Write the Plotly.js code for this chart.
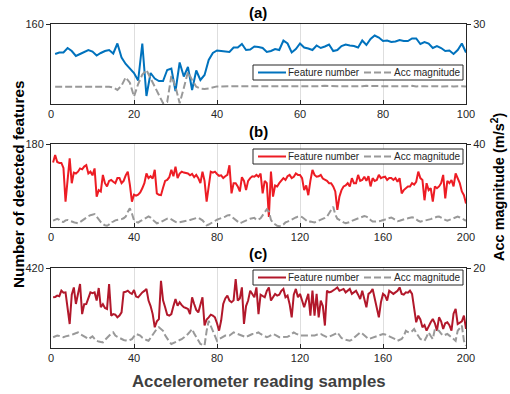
<!DOCTYPE html>
<html>
<head>
<meta charset="utf-8">
<script src="https://cdn.plot.ly/plotly-3.0.1.min.js"></script>
<style>html,body{margin:0;padding:0;background:#fff;}#chart{width:510px;height:394px;}</style>
</head>
<body>
<div id="chart"></div>
<script>
// ---- Data ----
const featureA = [100,103,103,112,106,96,100,104,108,105, 97,102,106,108,101,121,93,80,72,62,
  47,121,16,62,51,46,46,68,71,26, 83,55,74,28,67,48,58,88,102,107,
  106,105,104,113,113,120,108,109,115,114, 112,104,106,110,108,127,121,103,110,121,
  113,111,108,117,112,115,119,106,108,116, 119,117,116,113,127,118,130,137,133,126,
  127,124,125,128,126,126,131,131,120,124, 121,112,116,112,106,107,100,108,121,103];
const accA = [6.5,6.5,6.4,6.5,6.5,6.4,6.5,6.5,6.4,6.5, 6.5,6.5,6.4,6.5,6.2,5.3,6.9,10.0,8.0,2.8,
  7.5,11.0,12.7,9.6,6.0,3.4,0.3,0.8,10.5,6.5, 0.3,6.0,12.0,9.0,6.5,5.8,5.6,5.8,6.2,6.6,
  6.6,6.7,6.6,6.7,6.7,6.6,6.7,6.7,6.6,6.7, 6.7,6.6,6.7,6.7,6.6,6.7,6.7,6.6,6.7,6.7,
  6.6,6.7,6.7,6.6,6.7,6.8,6.7,6.6,6.7,6.7, 6.6,6.7,6.7,6.6,6.7,6.8,6.7,6.6,6.7,6.7,
  6.6,6.7,6.7,6.6,6.7,6.7,6.8,6.6,6.7,6.7, 6.6,6.7,6.7,6.6,6.7,6.7,6.6,6.7,6.7,6.6];

const featureB = [140,156,141,139,139,128,55,110,149,95, 118,116,120,127,125,131,134,116,120,112,
  127,66,80,77,113,95,88,100,102,98, 95,106,106,95,100,112,120,92,55,70,
  68,70,75,84,95,116,106,110,105,124, 73,70,69,85,100,102,108,124,110,131,
  106,116,120,118,117,116,112,115,108,113, 106,95,120,100,55,90,120,118,120,115,
  111,112,106,110,113,134,73,95,95,88, 77,108,100,80,100,106,110,109,113,109,
  116,73,100,95,22,120,66,90,88,95, 100,106,102,110,113,106,109,116,113,113,
  106,80,90,69,100,124,113,109,110,113, 105,102,100,95,95,88,77,37,66,80,
  88,90,95,88,106,95,95,113,100,102, 109,100,110,88,106,100,102,113,106,108,
  109,102,106,106,102,106,98,106,73,80, 84,88,88,95,92,98,120,106,102,58,
  95,80,84,55,88,84,88,95,113,62, 100,95,102,88,116,106,95,77,69,51];
const accB = [3.1,3.5,3.9,3.4,2.6,2.4,3.2,3.4,2.9,2.6, 2.3,2.0,1.8,2.4,3.2,4.0,4.6,5.2,5.7,6.0,
  6.2,5.0,3.4,2.4,1.5,0.8,0.6,1.2,2.4,2.6, 3.2,3.3,3.4,3.8,4.2,5.0,7.2,9.0,6.5,3.2,
  2.5,2.1,2.8,3.4,4.0,4.6,5.1,4.5,3.4,2.6, 1.8,2.0,2.4,3.0,3.6,4.0,4.2,3.8,3.1,2.5,
  2.1,2.3,2.6,2.8,3.0,3.2,3.4,3.8,4.1,4.3, 4.5,3.8,3.2,2.0,0.8,1.2,1.8,2.6,3.2,3.5,
  3.9,4.2,4.6,5.0,5.6,5.8,5.0,4.2,3.4,2.6, 1.8,2.2,2.8,3.4,3.6,4.0,4.2,4.4,3.4,3.6,
  4.2,5.5,7.0,8.5,7.5,3.4,2.0,1.2,0.6,0.4, 0.5,1.2,2.2,2.6,3.2,3.8,4.2,4.6,5.0,5.1,
  4.8,4.0,3.0,2.4,2.6,2.4,2.2,2.6,3.0,3.5, 4.0,4.4,5.0,6.5,8.5,9.8,6.0,4.0,3.4,2.6,
  2.2,1.8,2.0,2.4,3.0,3.4,3.8,4.4,4.8,5.2, 5.3,5.0,4.5,3.4,2.6,2.6,2.6,2.8,3.0,3.2,
  3.6,4.0,4.4,4.6,4.0,3.2,2.8,3.0,3.4,3.6, 4.0,4.2,4.6,4.7,4.4,3.6,3.0,2.6,2.8,3.0,
  3.2,3.4,3.8,4.2,4.6,4.9,5.0,4.6,4.0,3.4, 3.0,3.4,3.8,4.2,4.6,5.0,4.6,4.2,3.6,3.0];

const featureC = [266,268,275,272,301,290,292,200,126,280, 318,231,290,336,178,230,231,260,292,288,
  292,249,315,214,230,210,205,336,170,178, 175,161,170,187,292,295,301,290,284,304,
  270,266,280,292,300,310,249,220,178,109, 140,152,353,250,214,175,170,178,220,257,
  222,240,225,214,210,205,178,266,231,200, 187,230,266,118,150,161,175,170,161,130,
  91,144,231,260,275,249,240,250,362,249, 260,318,126,220,249,301,280,266,318,178,
  280,275,266,300,318,249,270,284,275,280, 300,310,266,275,230,161,280,310,266,284,
  249,214,250,284,170,301,170,284,161,249, 220,118,301,292,295,301,310,318,301,305,
  310,292,300,310,284,295,301,280,257,301, 260,214,284,292,310,260,196,161,240,284,
  275,249,301,290,284,292,300,318,284,280, 292,290,301,284,200,135,170,150,109,120,
  91,115,135,152,130,91,161,140,100,130, 135,120,91,180,205,126,135,140,170,100];
const accC = [2.7,2.9,3.1,3.0,2.8,2.7,2.9,3.1,3.1,3.3, 3.5,3.7,3.9,3.5,3.2,3.1,2.6,2.2,2.5,2.9,
  2.3,1.8,1.6,1.5,1.4,2.0,2.6,3.1,3.6,3.9, 3.1,2.8,2.5,2.2,2.0,1.9,1.8,2.0,2.2,2.9,
  3.5,3.3,3.1,2.6,2.2,2.0,1.8,2.6,3.5,4.3, 4.8,5.2,4.8,4.3,3.2,2.2,1.6,1.0,1.2,1.4,
  1.7,2.0,2.2,2.6,3.0,3.5,4.1,4.75,3.6,2.7, 1.8,1.0,0.8,0.6,4.3,6.8,5.5,4.3,3.0,1.8,
  2.2,2.5,2.8,3.1,3.1,3.1,3.5,3.9,3.7,3.5, 3.5,3.1,2.9,2.7,3.0,3.3,3.5,3.5,3.7,3.9,
  3.5,3.2,3.0,2.7,2.9,3.2,3.5,3.3,3.0,2.7, 2.7,2.7,2.7,2.8,3.1,3.5,3.9,3.6,3.3,3.1,
  3.1,3.1,3.1,3.1,3.1,3.1,3.1,3.3,3.5,3.5, 3.2,2.9,2.7,2.8,3.0,3.3,3.5,3.9,3.2,2.5,
  2.2,2.0,1.9,1.8,2.1,2.5,3.1,3.5,3.9,3.6, 3.1,2.7,2.25,2.4,2.6,2.7,2.9,3.1,3.3,3.5,
  3.4,3.2,3.0,2.7,2.4,2.2,1.8,2.0,2.25,3.0, 4.3,4.0,3.9,4.2,4.75,3.8,3.1,2.25,2.0,1.8,
  2.8,3.9,3.0,2.25,4.75,4.5,4.3,3.6,3.1,3.3, 3.5,3.1,2.7,2.2,1.8,4.3,5.0,5.6,1.8,0.6];

const samplesA = featureA.map((_, i) => i + 1);
const samplesB = featureB.map((_, i) => i + 1);
const samplesC = featureC.map((_, i) => i + 1);

const ticksA = [0, 20, 40, 60, 80, 100];
const ticksBC = [0, 40, 80, 120, 160, 200];
const panelLabels = ['(a)', '(b)', '(c)'];
const seriesNames = ['Feature number', 'Acc magnitude'];

// ---- Styling ----
const FONT = 'Liberation Sans, Arial, Helvetica, sans-serif';
const AXC = '#262626';
const GRAY = '#999999';
const DASH = '7px,3px';
const featColors = ['#0072BD', '#ED1C24', '#B2182B'];

// plot area in pixels: x 51..466, y 24..348
const PL = 51, PW = 415, PB = 348, PH = 324;
const px = v => (v - PL) / PW;
const py = v => (PB - v) / PH;

function ftrace(x, y, color, xa, ya) {
  return {x, y, type: 'scatter', mode: 'lines', name: seriesNames[0], xaxis: xa, yaxis: ya,
    line: {color, width: 2}, hoverinfo: 'skip'};
}
function atrace(x, y, xa, ya) {
  return {x, y, type: 'scatter', mode: 'lines', name: seriesNames[1], xaxis: xa, yaxis: ya,
    line: {color: GRAY, width: 2, dash: DASH}, hoverinfo: 'skip'};
}

const data = [
  ftrace(samplesA, featureA, featColors[0], 'x', 'y'),
  atrace(samplesA, accA, 'x', 'y2'),
  ftrace(samplesB, featureB, featColors[1], 'x2', 'y3'),
  atrace(samplesB, accB, 'x2', 'y4'),
  ftrace(samplesC, featureC, featColors[2], 'x3', 'y5'),
  atrace(samplesC, accC, 'x3', 'y6'),
];

function xaxis(anchor, range, tickvals) {
  return {anchor, range, tickvals, ticks: 'inside', ticklen: 4, tickcolor: AXC,
    showline: true, linecolor: AXC, linewidth: 1, mirror: true,
    showgrid: true, gridcolor: '#dedede', gridwidth: 1, zeroline: false,
    tickfont: {family: FONT, size: 11, color: AXC}, fixedrange: true};
}
function yleft(domain, max) {
  return {domain, range: [0, max], tickvals: [max], ticks: 'outside', ticklen: 4, tickcolor: AXC,
    showline: true, linecolor: AXC, linewidth: 1, showgrid: false, zeroline: false,
    tickfont: {family: FONT, size: 11, color: AXC}, fixedrange: true};
}
function yright(overlay, anchor, max) {
  return {overlaying: overlay, anchor, side: 'right', range: [0, max], tickvals: [max],
    ticks: 'outside', ticklen: 4, tickcolor: AXC, showline: true, linecolor: AXC, linewidth: 1,
    showgrid: false, zeroline: false, tickfont: {family: FONT, size: 11, color: AXC}, fixedrange: true};
}

// hand-drawn legend boxes (box px: x 253..463)
const shapes = [];
const annotations = [];
function legendBox(top, color) {
  const bot = top + 15, mid = top + 7.5;
  shapes.push({type: 'rect', xref: 'paper', yref: 'paper', x0: px(253), x1: px(463), y0: py(bot), y1: py(top),
    line: {color: AXC, width: 1}, fillcolor: '#ffffff', layer: 'above'});
  shapes.push({type: 'line', xref: 'paper', yref: 'paper', x0: px(258), x1: px(286), y0: py(mid), y1: py(mid),
    line: {color, width: 2}, layer: 'above'});
  shapes.push({type: 'line', xref: 'paper', yref: 'paper', x0: px(364), x1: px(392), y0: py(mid), y1: py(mid),
    line: {color: GRAY, width: 2, dash: DASH}, layer: 'above'});
  annotations.push({text: seriesNames[0], xref: 'paper', yref: 'paper', x: px(286), y: py(mid),
    xanchor: 'left', yanchor: 'middle', showarrow: false, font: {family: FONT, size: 10, color: AXC}});
  annotations.push({text: seriesNames[1], xref: 'paper', yref: 'paper', x: px(392), y: py(mid),
    xanchor: 'left', yanchor: 'middle', showarrow: false, font: {family: FONT, size: 10, color: AXC}});
}
legendBox(65, featColors[0]);
legendBox(149, featColors[1]);
legendBox(270, featColors[2]);

const labelY = [12.5, 131, 253];
panelLabels.forEach((t, i) => annotations.push({text: '<b>' + t + '</b>', xref: 'paper', yref: 'paper',
  x: px(258), y: py(labelY[i]), xanchor: 'center', yanchor: 'middle', showarrow: false,
  font: {family: FONT, size: 15, color: '#000'}}));

annotations.push({text: '<b>Number of detected features</b>', xref: 'paper', yref: 'paper', x: px(18), y: py(185),
  xanchor: 'center', yanchor: 'middle', textangle: -90, showarrow: false,
  font: {family: FONT, size: 15.3, color: '#000'}});
annotations.push({text: '<b>Acc magnitude (m/s<sup>2</sup>)</b>', xref: 'paper', yref: 'paper', x: px(498), y: py(187),
  xanchor: 'center', yanchor: 'middle', textangle: -90, showarrow: false,
  font: {family: FONT, size: 14.5, color: '#000'}});
annotations.push({text: '<b>Accelerometer reading samples</b>', xref: 'paper', yref: 'paper', x: px(259), y: py(381),
  xanchor: 'center', yanchor: 'middle', showarrow: false,
  font: {family: FONT, size: 16.8, color: '#404040'}});

const layout = {
  width: 510, height: 394,
  margin: {l: 51, r: 44, t: 24, b: 46},
  paper_bgcolor: '#ffffff', plot_bgcolor: '#ffffff',
  showlegend: false,
  xaxis: xaxis('y', [0, 100], ticksA),
  xaxis2: xaxis('y3', [0, 200], ticksBC),
  xaxis3: xaxis('y5', [0, 200], ticksBC),
  yaxis: yleft([py(104), 1], 160),
  yaxis2: yright('y', 'x', 30),
  yaxis3: yleft([py(227), py(144)], 180),
  yaxis4: yright('y3', 'x2', 40),
  yaxis5: yleft([0, py(268)], 420),
  yaxis6: yright('y5', 'x3', 20),
  shapes, annotations,
};

Plotly.newPlot('chart', data, layout, {staticPlot: true, displayModeBar: false});
</script>
</body>
</html>
